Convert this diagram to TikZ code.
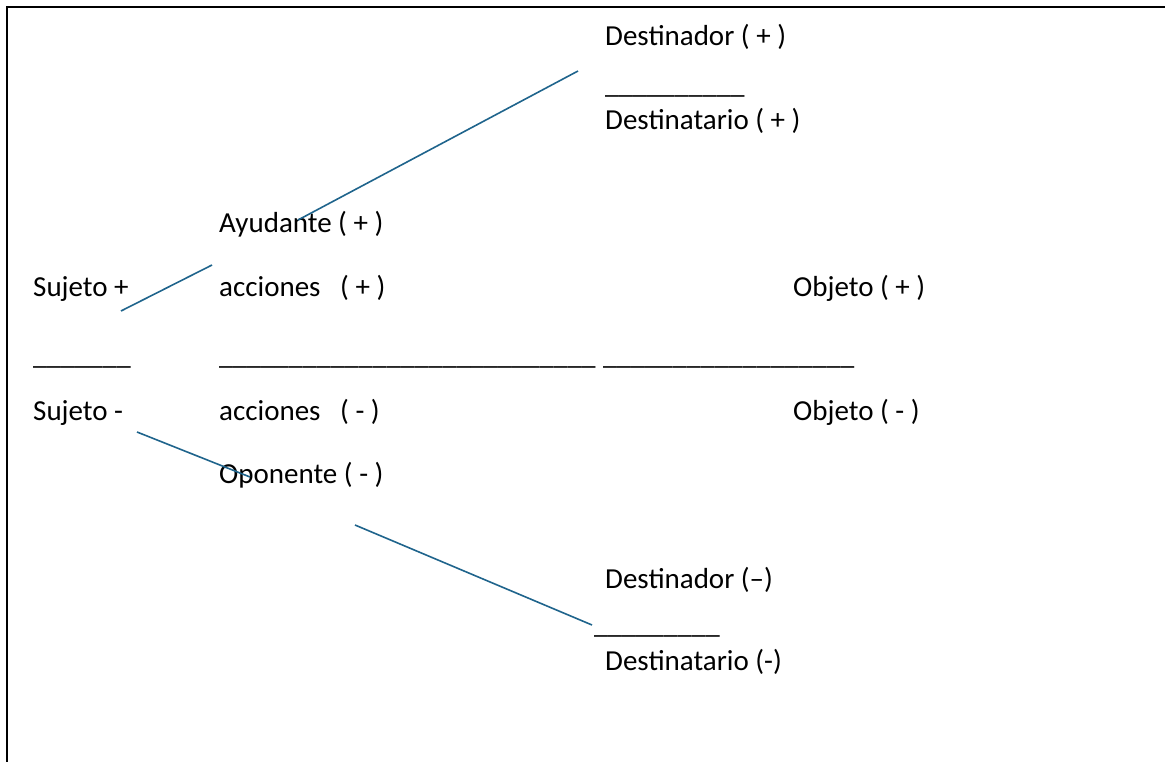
\documentclass[tikz,border=0pt]{standalone}
\usepackage{fontspec}
\setmainfont{Carlito}
\usetikzlibrary{positioning}
\definecolor{linkc}{HTML}{1F648C}

\begin{document}
\begin{tikzpicture}[x=1pt, y=-1pt,
  lbl/.style={anchor=base west, inner sep=0pt, font=\fontsize{29}{35}\selectfont},
  bar/.style={anchor=base west, inner sep=0pt, font=\fontsize{28}{34}\selectfont},
  link/.style={draw=linkc, line width=1.6pt},
  frame/.style={draw=black, line width=2.6pt}
]
  \useasboundingbox (0,0) rectangle (1165,762);
  \clip (0,0) rectangle (1165,762);
  \draw[frame] (7,7) rectangle (1200,800);

  % upper branch
  \node[lbl] (destp)  at (605,46)  {Destinador ( + )};
  \node[bar] (barp)   at (605,94)  {\_\_\_\_\_\_\_\_\_\_};
  \node[lbl] (dstrp)  at (605,130) {Destinatario ( + )};
  \node[lbl] (ayud)   at (219,233) {Ayudante ( + )};

  % positive row
  \node[lbl] (sujp)   at (33,297)  {Sujeto +};
  \node[lbl] (accp)   at (219,297) {acciones\ \ \ ( + )};
  \node[lbl] (objp)   at (793,297) {Objeto ( + )};

  % dividing row
  \node[bar] (barl)   at (33,364)  {\_\_\_\_\_\_\_};
  \node[bar] (barm)   at (219,364) {\_\_\_\_\_\_\_\_\_\_\_\_\_\_\_\_\_\_\_\_\_\_\_\_\_\_\_};
  \node[bar] (barr)   at (603,364) {\_\_\_\_\_\_\_\_\_\_\_\_\_\_\_\_\_\_};

  % negative row
  \node[lbl] (sujm)   at (33,420)  {Sujeto -};
  \node[lbl] (accm)   at (219,420) {acciones\ \ \ ( - )};
  \node[lbl] (objm)   at (793,420) {Objeto ( - )};

  % lower branch
  \node[lbl] (opon)   at (219,483) {Oponente ( - )};
  \node[lbl] (destm)  at (605,588) {Destinador (–)};
  \node[bar] (barn)   at (594,633) {\_\_\_\_\_\_\_\_\_};
  \node[lbl] (dstrm)  at (605,670) {Destinatario (-)};

  % link ends
  \coordinate (ayudin)  at (298,220);
  \coordinate (destin)  at (578,71);
  \coordinate (sujout)  at (121,311);
  \coordinate (accin)   at (212,265);
  \coordinate (sujmout) at (137,432);
  \coordinate (oponin)  at (250,477);
  \coordinate (oponout) at (355,525);
  \coordinate (barnin)  at (592,625);

  \draw[link] (ayudin) -- (destin);
  \draw[link] (sujout) -- (accin);
  \draw[link] (sujmout) -- (oponin);
  \draw[link] (oponout) -- (barnin);
\end{tikzpicture}
\end{document}
